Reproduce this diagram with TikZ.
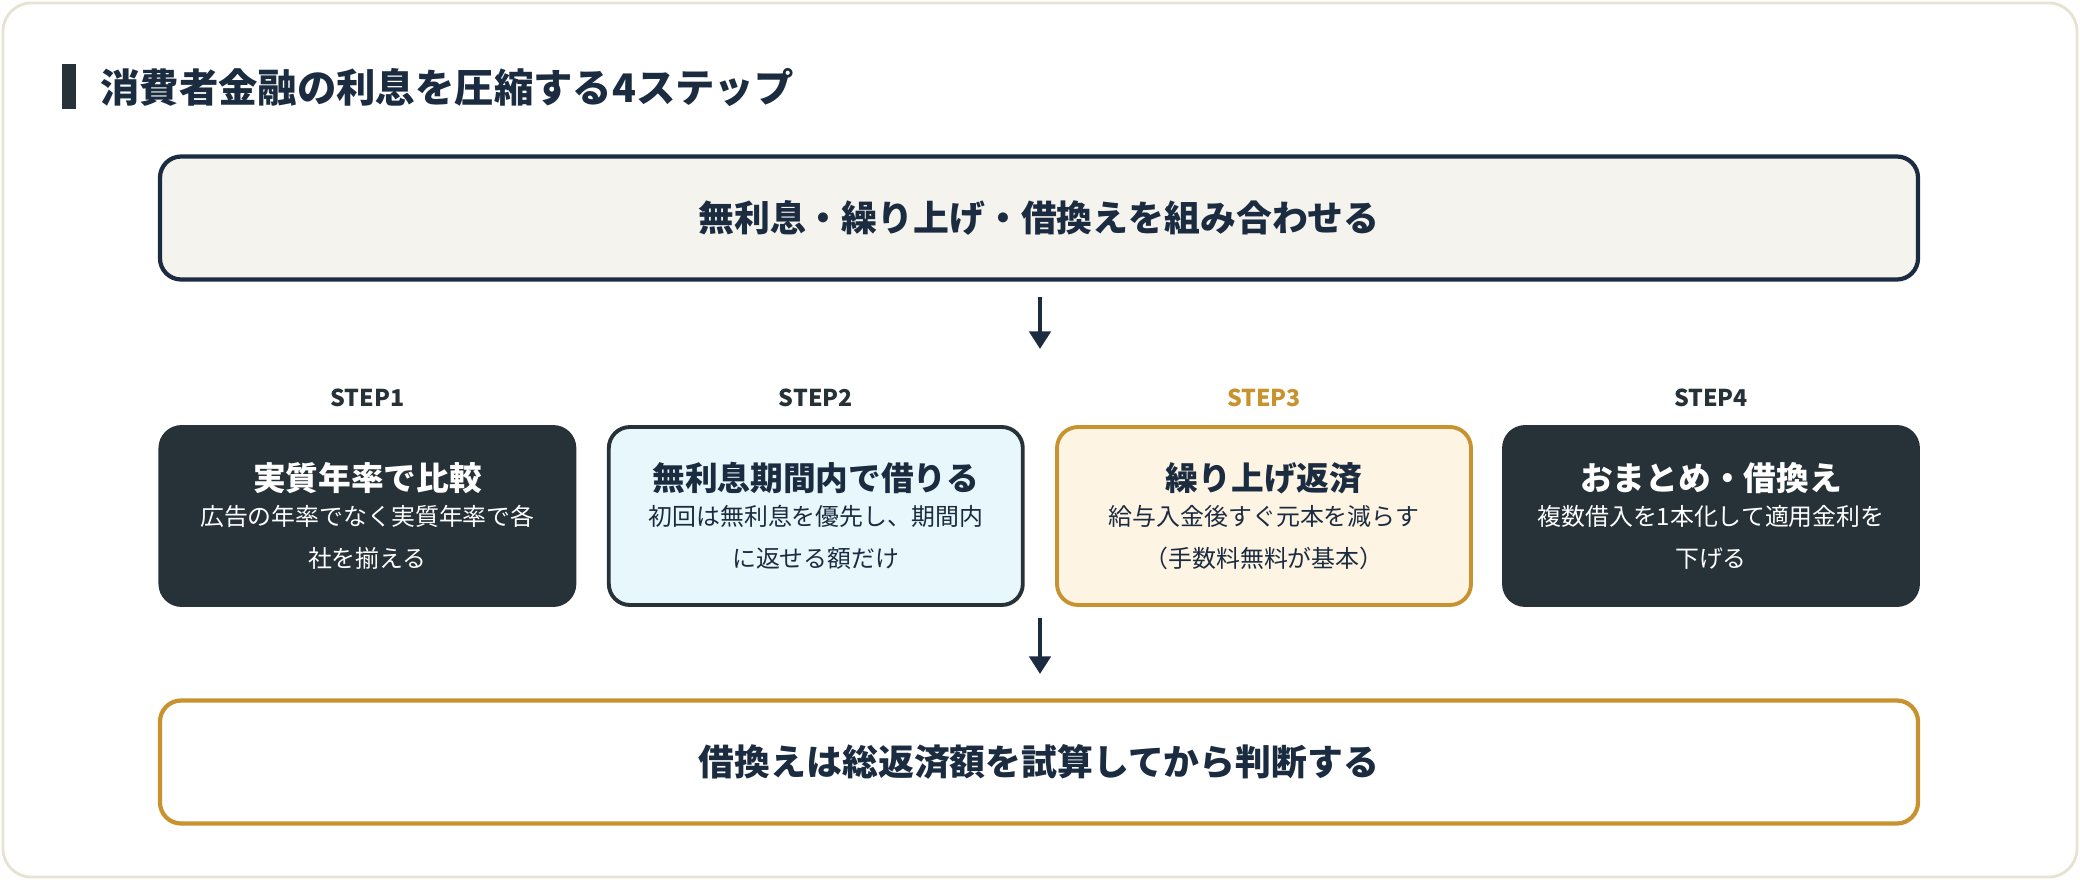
\documentclass[tikz,border=0pt]{standalone}
\usepackage{fontspec}
\setmainfont{Noto Sans CJK JP}
\usepackage{tikz}
\usetikzlibrary{positioning, arrows.meta}
\definecolor{navy}{HTML}{1B2B40}
\definecolor{slate}{HTML}{263238}
\definecolor{gold}{HTML}{C8922F}
\definecolor{cream}{HTML}{FDF4E3}
\definecolor{iceblue}{HTML}{E8F7FC}
\definecolor{paper}{HTML}{F5F3EE}
\definecolor{frame}{HTML}{E6E3D3}
\tikzset{
  wide/.style={rectangle, rounded corners=6pt, minimum width=17.58cm, minimum height=1.23cm, line width=1.2pt, text=navy, font=\bfseries\fontsize{10.2}{12}\selectfont},
  stepbox/.style={rectangle, rounded corners=6pt, minimum width=4.14cm, minimum height=1.78cm, line width=1.1pt, align=center, text width=3.9cm},
  steplabel/.style={font=\bfseries\fontsize{6.6}{8}\selectfont, text=slate},
  arrow/.style={line width=1.2pt, navy, -{Triangle[length=5pt, width=6pt]}}
}
\newcommand{\stepbody}[2]{{\bfseries\fontsize{9.3}{11}\selectfont #1}\\[1pt]{\fontsize{6.8}{9}\selectfont #2}}
\begin{document}
\begin{tikzpicture}
\useasboundingbox (0,0) rectangle (20.8,-8.8);
\draw[frame, line width=0.8pt, fill=white, rounded corners=8pt] (0.03,-0.03) rectangle (20.77,-8.77);

% Title
\fill[slate] (0.62,-0.64) rectangle (0.76,-1.09);
\node (title) [anchor=west, text=navy, font=\bfseries\fontsize{11.2}{13}\selectfont] at (0.88,-0.87) {消費者金融の利息を圧縮する4ステップ};

% Top and bottom
\node (top) [wide, draw=navy, fill=paper] at (10.39,-2.18) {無利息・繰り上げ・借換えを組み合わせる};
\node (bottom) [wide, draw=gold, fill=white] at (10.39,-7.62) {借換えは総返済額を試算してから判断する};

% Steps
\node (s1) [stepbox, draw=slate, fill=slate, text=white] at (3.674,-5.16) {\stepbody{実質年率で比較}{広告の年率でなく実質年率で各\\社を揃える}};
\node (s2) [stepbox, draw=slate, fill=iceblue, text=navy] at (8.158,-5.16) {\stepbody{無利息期間内で借りる}{初回は無利息を優先し、期間内\\に返せる額だけ}};
\node (s3) [stepbox, draw=gold, fill=cream, text=navy] at (12.64,-5.16) {\stepbody{繰り上げ返済}{給与入金後すぐ元本を減らす\\（手数料無料が基本）}};
\node (s4) [stepbox, draw=slate, fill=slate, text=white] at (17.11,-5.16) {\stepbody{おまとめ・借換え}{複数借入を1本化して適用金利を\\下げる}};

\node (l1) [steplabel] at (3.674,-3.98) {STEP1};
\node (l2) [steplabel] at (8.158,-3.98) {STEP2};
\node (l3) [steplabel, text=gold] at (12.64,-3.98) {STEP3};
\node (l4) [steplabel] at (17.11,-3.98) {STEP4};

\coordinate (a1) at (10.40,-3.49);
\coordinate (a2) at (10.40,-6.18);
\coordinate (a3) at (10.40,-6.74);
\draw[arrow] ([yshift=-0.15cm]top.south -| a1) -- (a1);
\draw[arrow] (a2) -- (a3);
\end{tikzpicture}
\end{document}
